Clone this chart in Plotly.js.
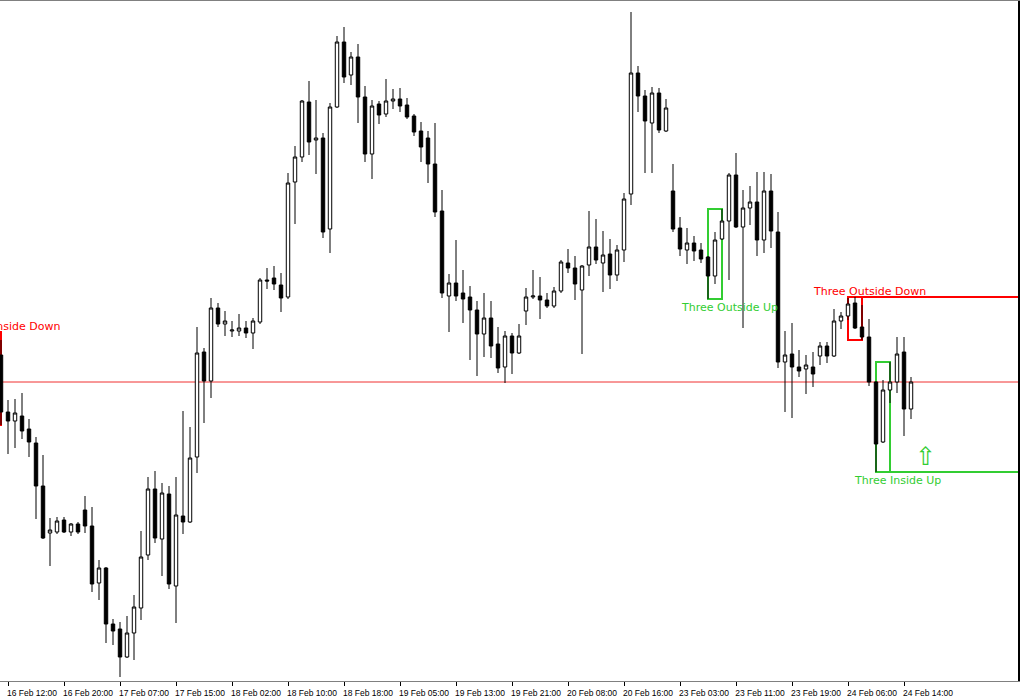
<!DOCTYPE html>
<html><head><meta charset="utf-8">
<script src="https://cdn.plot.ly/plotly-3.0.1.min.js"></script>
<style>html,body{margin:0;padding:0;background:#fff;} #chart{width:1020px;height:700px;}</style>
</head><body><div id="chart"></div>
<script>
// Hourly bars; bar index -1 = 16 Feb 11:00 (partly cut at the left edge)
const firstBar = -1;
const openPrice = [
1.3326,
1.3269,1.3260,1.3265,1.3252,1.3238,1.3195,1.3148,1.3149,1.3161,1.3149,
1.3157,1.3171,1.3155,1.3098,1.3113,1.3057,1.3052,1.3024,1.3048,1.3073,
1.3126,1.3192,1.3142,1.3187,1.3095,1.3165,1.3159,1.3224,1.3329,1.3300,
1.3373,1.3357,1.3350,1.3350,1.3353,1.3348,1.3359,1.3401,1.3403,1.3396,
1.3384,1.3499,1.3524,1.3579,1.3541,1.3543,1.3452,1.3574,1.3639,1.3606,
1.3624,1.3584,1.3527,1.3577,1.3567,1.3580,1.3582,1.3576,1.3565,1.3550,
1.3543,1.3517,1.3470,1.3385,1.3398,1.3388,1.3384,1.3371,1.3347,1.3363,
1.3337,1.3314,1.3345,1.3328,1.3370,1.3384,1.3385,1.3381,1.3375,1.3390,
1.3418,1.3413,1.3391,1.3416,1.3434,1.3418,1.3427,1.3406,1.3431,1.3487,
1.3608,1.3585,1.3558,1.3588,1.3550,1.3490,1.3453,1.3431,1.3438,1.3431,
1.3424,1.3405,1.3442,1.3460,1.3506,1.3454,1.3473,1.3479,1.3441,1.3490,
1.3449,1.3319,1.3327,1.3314,1.3312,1.3314,1.3325,1.3335,1.3325,1.3360,
1.3365,1.3378,1.3354,1.3344,1.3299,1.3239,1.3291,1.3299,1.3329,1.3272
];
const highPrice = [
1.3341,
1.3281,1.3282,1.3288,1.3262,1.3244,1.3226,1.3163,1.3164,1.3164,1.3158,
1.3159,1.3185,1.3174,1.3121,1.3114,1.3062,1.3059,1.3065,1.3086,1.3150,
1.3204,1.3210,1.3198,1.3195,1.3204,1.3270,1.3254,1.3354,1.3333,1.3383,
1.3378,1.3370,1.3360,1.3367,1.3360,1.3363,1.3403,1.3413,1.3415,1.3408,
1.3508,1.3535,1.3581,1.3600,1.3581,1.3548,1.3578,1.3645,1.3654,1.3629,
1.3637,1.3595,1.3581,1.3580,1.3602,1.3592,1.3593,1.3583,1.3567,1.3559,
1.3550,1.3558,1.3491,1.3407,1.3441,1.3411,1.3395,1.3380,1.3388,1.3380,
1.3354,1.3350,1.3348,1.3357,1.3393,1.3411,1.3404,1.3388,1.3394,1.3421,
1.3432,1.3425,1.3416,1.3470,1.3462,1.3450,1.3442,1.3436,1.3488,1.3669,
1.3615,1.3591,1.3594,1.3593,1.3582,1.3517,1.3464,1.3453,1.3445,1.3438,
1.3425,1.3449,1.3472,1.3508,1.3528,1.3491,1.3495,1.3509,1.3509,1.3507,
1.3469,1.3350,1.3358,1.3331,1.3326,1.3329,1.3339,1.3339,1.3372,1.3369,
1.3383,1.3384,1.3376,1.3362,1.3300,1.3301,1.3319,1.3344,1.3344,1.3304
];
const lowPrice = [
1.3256,
1.3227,1.3233,1.3242,1.3224,1.3162,1.3142,1.3115,1.3147,1.3148,1.3145,
1.3147,1.3148,1.3089,1.3081,1.3038,1.3036,1.3004,1.3023,1.3021,1.3061,
1.3121,1.3138,1.3105,1.3092,1.3058,1.3147,1.3158,1.3208,1.3258,1.3283,
1.3354,1.3345,1.3344,1.3345,1.3343,1.3332,1.3357,1.3392,1.3391,1.3369,
1.3382,1.3457,1.3519,1.3526,1.3507,1.3443,1.3428,1.3573,1.3598,1.3596,
1.3558,1.3519,1.3502,1.3557,1.3564,1.3572,1.3569,1.3562,1.3545,1.3519,
1.3498,1.3464,1.3383,1.3349,1.3380,1.3358,1.3321,1.3305,1.3324,1.3323,
1.3308,1.3298,1.3307,1.3327,1.3356,1.3382,1.3362,1.3373,1.3373,1.3388,
1.3408,1.3381,1.3327,1.3405,1.3417,1.3389,1.3392,1.3400,1.3419,1.3476,
1.3569,1.3508,1.3508,1.3548,1.3549,1.3449,1.3425,1.3417,1.3420,1.3418,
1.3382,1.3397,1.3441,1.3401,1.3453,1.3353,1.3456,1.3425,1.3428,1.3433,
1.3313,1.3269,1.3263,1.3304,1.3287,1.3294,1.3316,1.3318,1.3324,1.3352,
1.3361,1.3352,1.3341,1.3295,1.3209,1.3238,1.3278,1.3288,1.3245,1.3262
];
const closePrice = [
1.3269,
1.3260,1.3268,1.3250,1.3239,1.3195,1.3143,1.3151,1.3160,1.3149,1.3157,
1.3149,1.3155,1.3097,1.3113,1.3057,1.3050,1.3024,1.3048,1.3074,1.3124,
1.3192,1.3143,1.3188,1.3097,1.3166,1.3159,1.3223,1.3328,1.3300,1.3373,
1.3357,1.3360,1.3351,1.3353,1.3348,1.3360,1.3401,1.3400,1.3397,1.3383,
1.3498,1.3524,1.3580,1.3539,1.3543,1.3449,1.3574,1.3639,1.3604,1.3624,
1.3584,1.3527,1.3575,1.3566,1.3580,1.3582,1.3575,1.3564,1.3549,1.3534,
1.3517,1.3469,1.3388,1.3398,1.3385,1.3382,1.3371,1.3347,1.3363,1.3335,
1.3313,1.3345,1.3328,1.3345,1.3384,1.3385,1.3381,1.3375,1.3390,1.3419,
1.3413,1.3397,1.3415,1.3434,1.3421,1.3426,1.3406,1.3431,1.3482,1.3608,
1.3585,1.3560,1.3588,1.3551,1.3573,1.3452,1.3432,1.3438,1.3430,1.3422,
1.3405,1.3441,1.3460,1.3506,1.3454,1.3473,1.3479,1.3441,1.3490,1.3450,
1.3319,1.3326,1.3314,1.3310,1.3316,1.3307,1.3335,1.3325,1.3360,1.3365,
1.3377,1.3353,1.3344,1.3299,1.3237,1.3291,1.3299,1.3327,1.3272,1.3299
];

// Time-axis labels (every 8th bar)
const tickBars = [0,8,16,24,32,40,48,56,64,72,80,88,96,104,112,120,128];
const tickLabels = ['16 Feb 12:00','16 Feb 20:00','17 Feb 07:00','17 Feb 15:00','18 Feb 02:00',
  '18 Feb 10:00','18 Feb 18:00','19 Feb 05:00','19 Feb 13:00','19 Feb 21:00','20 Feb 08:00',
  '20 Feb 16:00','23 Feb 03:00','23 Feb 11:00','23 Feb 19:00','24 Feb 06:00','24 Feb 14:00'];

// Detected candlestick patterns
const patternNames = ['Three Inside Down','Three Outside Up','Three Outside Down','Three Inside Up'];
const patternStart = [-3, 100, 120, 124];
const patternEnd   = [-1, 102, 122, 126];
const patternHigh  = [1.3349, 1.3472, 1.3384, 1.3319];
const patternLow   = [1.3256, 1.3382, 1.3341, 1.3209];
const patternBull  = [false, true, false, true];
const patternExtend = [false, false, true, true];

// Buy signal arrow
const signalBar = [131];
const signalPrice = [1.3215];

const bullColor = '#32CD32', bearColor = '#FF0000';
const bars = openPrice.map((_, k) => firstBar + k);
const bid = closePrice[closePrice.length - 1];

const trace = {
  type: 'candlestick', x: bars, open: openPrice, high: highPrice, low: lowPrice, close: closePrice,
  increasing: {line: {color: '#000000', width: 1}, fillcolor: '#ffffff'},
  decreasing: {line: {color: '#000000', width: 1}, fillcolor: '#000000'},
  whiskerwidth: 0, hoverinfo: 'skip', showlegend: false
};

const shapes = [{
  type: 'line', xref: 'paper', x0: 0, x1: 1, yref: 'y', y0: bid, y1: bid,
  line: {color: '#F03030', width: 1}, layer: 'below'
}];
const annotations = [];
const xMax = (1018 - 8) / 7;
patternNames.forEach((name, k) => {
  const col = patternBull[k] ? bullColor : bearColor;
  shapes.push({type: 'rect', xref: 'x', yref: 'y', x0: patternStart[k], x1: patternEnd[k],
    y0: patternLow[k], y1: patternHigh[k], line: {color: col, width: 2}, fillcolor: 'rgba(0,0,0,0)', layer: 'below'});
  if (patternExtend[k]) {
    const lvl = patternBull[k] ? patternLow[k] : patternHigh[k];
    shapes.push({type: 'line', xref: 'x', yref: 'y', x0: patternEnd[k], x1: xMax + 1,
      y0: lvl, y1: lvl, line: {color: col, width: 2}, layer: 'below'});
  }
  annotations.push({
    x: (patternStart[k] + patternEnd[k]) / 2 + 2.1, xref: 'x', yref: 'y',
    y: patternBull[k] ? patternLow[k] : patternHigh[k],
    yanchor: patternBull[k] ? 'top' : 'bottom', xanchor: 'center',
    yshift: patternBull[k] ? 0 : -2.5,
    text: name, showarrow: false,
    font: {family: 'DejaVu Sans', size: 11, color: col}
  });
});
signalBar.forEach((b, k) => {
  annotations.push({x: b, y: signalPrice[k], xref: 'x', yref: 'y', yanchor: 'bottom', xanchor: 'center',
    yshift: -7, text: '\u21E7', showarrow: false,
    font: {family: 'DejaVu Sans', size: 25, color: bullColor}});
});

const layout = {
  width: 1020, height: 700,
  margin: {l: 0, r: 2, t: 1, b: 19, pad: 0},
  paper_bgcolor: '#ffffff', plot_bgcolor: '#ffffff',
  showlegend: false, hovermode: false,
  xaxis: {
    type: 'linear', range: [-8 / 7, xMax], rangeslider: {visible: false},
    tickvals: tickBars, ticktext: tickLabels,
    ticks: 'outside', ticklen: 4, tickwidth: 1, tickcolor: '#000000',
    ticklabelshift: 24, ticklabelstandoff: 0,
    tickfont: {family: 'Liberation Sans, Arial, sans-serif', size: 8.5, color: '#000000'},
    showline: true, mirror: true, linecolor: '#808080', linewidth: 1,
    showgrid: false, zeroline: false, fixedrange: true
  },
  yaxis: {
    range: [1.3000, 1.3680], side: 'right',
    showline: true, linecolor: '#000000', linewidth: 2,
    showticklabels: false, ticks: '', showgrid: false, zeroline: false, fixedrange: true
  },
  shapes: shapes, annotations: annotations
};

Plotly.newPlot('chart', [trace], layout, {displayModeBar: false, staticPlot: true});
</script>
</body></html>
